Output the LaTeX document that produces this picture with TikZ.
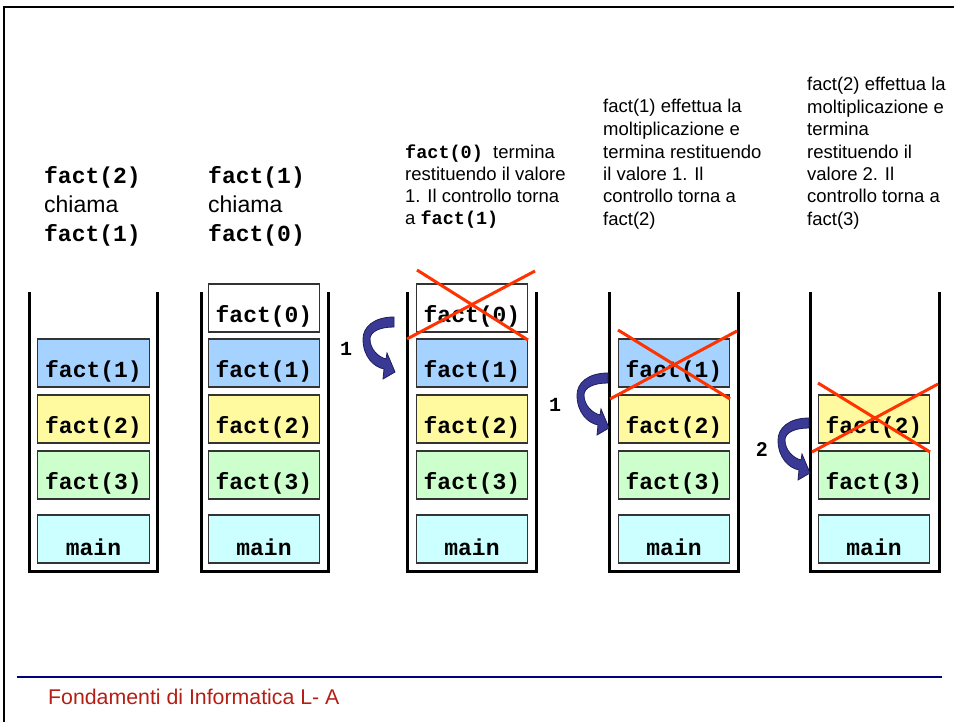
\documentclass[tikz,border=0pt]{standalone}
\usepackage{fontspec}
\setmainfont{Liberation Sans}
\newfontfamily\cmono{Liberation Mono}
\newcommand\tb[1]{{\cmono\bfseries #1}}
\definecolor{cblue}{RGB}{166,210,255}
\definecolor{cyel}{RGB}{255,250,160}
\definecolor{cgreen}{RGB}{204,255,204}
\definecolor{ccyan}{RGB}{204,255,255}
\definecolor{xred}{RGB}{255,51,0}
\definecolor{arrfill}{RGB}{58,58,150}
\definecolor{arrline}{RGB}{30,30,90}
\definecolor{footred}{RGB}{180,30,20}
\definecolor{navyline}{RGB}{0,0,128}
\newcommand\stkbox[5]{%
  \node[boxst, fill=#4] (#1) at (#2,#3) {};
  \node[lbl] (#1t) at ([yshift=-8pt]#1.center) {#5};}
\newcommand\bentarrow[2]{%
  \filldraw[arrowst, shift={(#1,#2)}] (0,0) .. controls (-20,0) and (-31,10) .. (-31,22)
    .. controls (-31,40) and (-20,50) .. (-10,52) -- (-11,62) -- (1,55) -- (-7,36) -- (-8,42)
    .. controls (-16,40) and (-24,32) .. (-24,22) .. controls (-24,15) and (-15,10) .. (0,10) -- cycle;}
\begin{document}
\begin{tikzpicture}[x=1pt,y=-1pt,
  wall/.style={line width=3pt, black},
  boxst/.style={draw=black!80, line width=1.2pt, minimum width=111.5pt, minimum height=48pt, inner sep=0pt},
  lbl/.style={inner sep=0pt, font=\fontsize{23}{23}\selectfont\cmono\bfseries},
  big/.style={anchor=base west, inner sep=0pt, font=\fontsize{23}{29}\selectfont},
  txt/.style={anchor=base west, inner sep=0pt, font=\fontsize{18.5}{22}\selectfont},
  cross/.style={xred, line width=3pt},
  arrowst/.style={fill=arrfill, draw=arrline, line width=0.8pt}]
\useasboundingbox (0,0) rectangle (954,722);
% slide frame
\draw[line width=2.7pt] (4,722) -- (4,7) -- (954,7);
% footer
\draw[navyline, line width=2pt] (17,677) -- (942,677);
\node[anchor=base west, inner sep=0pt, text=footred, font=\fontsize{21.3}{22}\selectfont] (foot) at (48,704) {Fondamenti di Informatica L- A};

% top texts
\node[big] (a1) at (44,184) {\tb{fact(2)}};
\node[big] (a2) at (44,213) {chiama};
\node[big] (a3) at (44,242) {\tb{fact(1)}};
\node[big] (b1) at (208,184) {\tb{fact(1)}};
\node[big] (b2) at (208,213) {chiama};
\node[big] (b3) at (208,242) {\tb{fact(0)}};

\node[txt] (c1) at (405,158.5) {\tb{fact(0)}\ \ termina};
\node[txt] (c2) at (405,180.5) {restituendo il valore};
\node[txt] (c3) at (405,202.5) {1. Il controllo torna};
\node[txt] (c4) at (405,224.5) {a \tb{fact(1)}};

\node[txt] (d1) at (603,112.5) {fact(1) effettua la};
\node[txt] (d2) at (603,135.5) {moltiplicazione e};
\node[txt] (d3) at (603,158.5) {termina restituendo};
\node[txt] (d4) at (603,180.5) {il valore 1. Il};
\node[txt] (d5) at (603,202.5) {controllo torna a};
\node[txt] (d6) at (603,225.5) {fact(2)};

\node[txt] (e1) at (807,90.5) {fact(2) effettua la};
\node[txt] (e2) at (807,113.5) {moltiplicazione e};
\node[txt] (e3) at (807,135.5) {termina};
\node[txt] (e4) at (807,158.5) {restituendo il};
\node[txt] (e5) at (807,180.5) {valore 2. Il};
\node[txt] (e6) at (807,202.5) {controllo torna a};
\node[txt] (e7) at (807,225.5) {fact(3)};

% stack walls
\draw[wall] (29.5,292) -- (29.5,571) -- (157.5,571) -- (157.5,292);
\draw[wall] (201,292) -- (201,571) -- (328,571) -- (328,292);
\draw[wall] (407.5,292) -- (407.5,571) -- (536,571) -- (536,292);
\draw[wall] (609.5,292) -- (609.5,571) -- (738,571) -- (738,292);
\draw[wall] (810.5,292) -- (810.5,571) -- (939,571) -- (939,292);

% stack 1
\stkbox{s1a}{93.5}{363}{cblue}{fact(1)}
\stkbox{s1b}{93.5}{419}{cyel}{fact(2)}
\stkbox{s1c}{93.5}{475}{cgreen}{fact(3)}
\stkbox{s1m}{93.5}{539}{ccyan}{main}
% stack 2
\stkbox{s2z}{264}{308}{white}{fact(0)}
\stkbox{s2a}{264}{363}{cblue}{fact(1)}
\stkbox{s2b}{264}{419}{cyel}{fact(2)}
\stkbox{s2c}{264}{475}{cgreen}{fact(3)}
\stkbox{s2m}{264}{539}{ccyan}{main}
% stack 3
\stkbox{s3z}{472}{308}{white}{fact(0)}
\stkbox{s3a}{472}{363}{cblue}{fact(1)}
\stkbox{s3b}{472}{419}{cyel}{fact(2)}
\stkbox{s3c}{472}{475}{cgreen}{fact(3)}
\stkbox{s3m}{472}{539}{ccyan}{main}
% stack 4
\stkbox{s4a}{674}{363}{cblue}{fact(1)}
\stkbox{s4b}{674}{419}{cyel}{fact(2)}
\stkbox{s4c}{674}{475}{cgreen}{fact(3)}
\stkbox{s4m}{674}{539}{ccyan}{main}
% stack 5
\stkbox{s5b}{874}{419}{cyel}{fact(2)}
\stkbox{s5c}{874}{475}{cgreen}{fact(3)}
\stkbox{s5m}{874}{539}{ccyan}{main}

% crosses
\draw[cross] (417,270) -- (528,340);
\draw[cross] (535,271) -- (407,339);
\draw[cross] (618,330) -- (730,399);
\draw[cross] (737,331) -- (610,399);
\draw[cross] (818,383) -- (930,452);
\draw[cross] (938,384) -- (812,452);

% bent arrows
\bentarrow{394}{317}
\bentarrow{608}{373}
\bentarrow{809}{418}
\node[inner sep=0pt, font=\fontsize{20}{20}\selectfont\cmono\bfseries] (n1) at (346,349) {1};
\node[inner sep=0pt, font=\fontsize{20}{20}\selectfont\cmono\bfseries] (n2) at (555,405) {1};
\node[inner sep=0pt, font=\fontsize{20}{20}\selectfont\bfseries] (n3) at (762,450) {2};
\end{tikzpicture}
\end{document}
